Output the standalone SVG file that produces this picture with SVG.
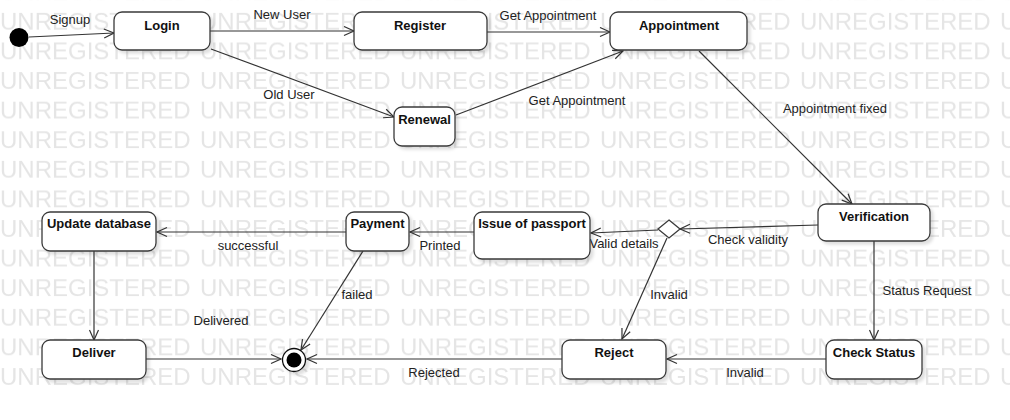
<svg xmlns="http://www.w3.org/2000/svg" width="1010" height="420" viewBox="0 0 1010 420">
<style>
.wm{font-family:"Liberation Sans",Arial,sans-serif;font-size:24px;fill:#e5e5e5}
.node rect{fill:#fff;stroke:#3a3a3a;stroke-width:1.3}
.nt{font-family:"Liberation Sans",Arial,sans-serif;font-size:13px;font-weight:bold;fill:#111;text-anchor:middle}
.lb{font-family:"Liberation Sans",Arial,sans-serif;font-size:13px;fill:#222;text-anchor:middle}
#edges path{fill:none;stroke:#333;stroke-width:1.2;marker-end:url(#arr)}
</style>
<defs>
<marker id="arr" markerUnits="userSpaceOnUse" markerWidth="13" markerHeight="12" refX="11" refY="5.5" orient="auto">
<path d="M1,1 L11,5.5 L1,10" fill="none" stroke="#333" stroke-width="1.2"/>
</marker>
<filter id="sh" x="-10%" y="-10%" width="130%" height="140%">
<feDropShadow dx="3" dy="3" stdDeviation="1.8" flood-color="#000" flood-opacity="0.12"/>
</filter>
<pattern id="wmp" patternUnits="userSpaceOnUse" x="0" y="5" width="200" height="29.6">
<text class="wm" x="0" y="25">UNREGISTERED</text>
</pattern>
</defs>
<rect width="1010" height="420" fill="#fff"/>
<rect x="0" y="0" width="1010" height="392" fill="url(#wmp)"/>

<g id="edges">
<path d="M29,37 L114,33"/>
<path d="M210,31 L354,31"/>
<path d="M211,49 L394,117"/>
<path d="M487,32 L610,32"/>
<path d="M456,115 L623,51"/>
<path d="M699,51 L852,204"/>
<path d="M818,225 L680,229"/>
<path d="M658,230 L591,233"/>
<path d="M667,238 L622,339"/>
<path d="M474,232 L410,232"/>
<path d="M346,232 L157,232"/>
<path d="M363,251 L301,350"/>
<path d="M94,251 L94,340"/>
<path d="M146,359 L281,359"/>
<path d="M562,359 L307,359"/>
<path d="M874,241 L874,340"/>
<path d="M826,359 L667,359"/>
<text class="lb" x="70" y="24">Signup</text>
<text class="lb" x="282" y="19">New User</text>
<text class="lb" x="289" y="99">Old User</text>
<text class="lb" x="548" y="20">Get Appointment</text>
<text class="lb" x="577" y="105">Get Appointment</text>
<text class="lb" x="835" y="113">Appointment fixed</text>
<text class="lb" x="748" y="244">Check validity</text>
<text class="lb" x="624" y="248">Valid details</text>
<text class="lb" x="440" y="250">Printed</text>
<text class="lb" x="248" y="250">successful</text>
<text class="lb" x="927" y="295">Status Request</text>
<text class="lb" x="669" y="299">Invalid</text>
<text class="lb" x="357" y="299">failed</text>
<text class="lb" x="221" y="325">Delivered</text>
<text class="lb" x="434" y="377">Rejected</text>
<text class="lb" x="745" y="377">Invalid</text>
</g>

<g id="start"><circle cx="19" cy="37.5" r="9.5" fill="#000"/></g>
<g id="login" class="node"><rect x="114" y="12" width="96" height="38" rx="8" filter="url(#sh)"/><text class="nt" x="162" y="30">Login</text></g>
<g id="register" class="node"><rect x="354" y="12" width="133" height="38" rx="8" filter="url(#sh)"/><text class="nt" x="420" y="30">Register</text></g>
<g id="appointment" class="node"><rect x="610" y="12" width="137" height="38" rx="8" filter="url(#sh)"/><text class="nt" x="679" y="30">Appointment</text></g>
<g id="renewal" class="node"><rect x="394" y="107" width="61" height="39" rx="8" filter="url(#sh)"/><text class="nt" x="424.5" y="124">Renewal</text></g>
<g id="verification" class="node"><rect x="818" y="204" width="112" height="37" rx="8" filter="url(#sh)"/><text class="nt" x="874" y="221">Verification</text></g>
<g id="decision"><polygon points="669,220 680,229 669,238 658,229" fill="#fff" stroke="#3a3a3a" stroke-width="1.3"/></g>
<g id="issue" class="node"><rect x="474" y="212" width="116" height="47" rx="8" filter="url(#sh)"/><text class="nt" x="532" y="228">Issue of passport</text></g>
<g id="payment" class="node"><rect x="346" y="212" width="63" height="39" rx="8" filter="url(#sh)"/><text class="nt" x="377.5" y="228">Payment</text></g>
<g id="update" class="node"><rect x="42" y="212" width="114" height="39" rx="8" filter="url(#sh)"/><text class="nt" x="99" y="228">Update database</text></g>
<g id="deliver" class="node"><rect x="42" y="340" width="104" height="39" rx="8" filter="url(#sh)"/><text class="nt" x="94" y="357">Deliver</text></g>
<g id="reject" class="node"><rect x="562" y="340" width="104" height="39" rx="8" filter="url(#sh)"/><text class="nt" x="614" y="357">Reject</text></g>
<g id="checkstatus" class="node"><rect x="826" y="340" width="96" height="39" rx="8" filter="url(#sh)"/><text class="nt" x="874" y="357">Check Status</text></g>
<g id="end"><circle cx="294" cy="360" r="11.5" fill="#fff" stroke="#111" stroke-width="1.3" filter="url(#sh)"/><circle cx="294" cy="360" r="7.5" fill="#000"/></g>
</svg>
